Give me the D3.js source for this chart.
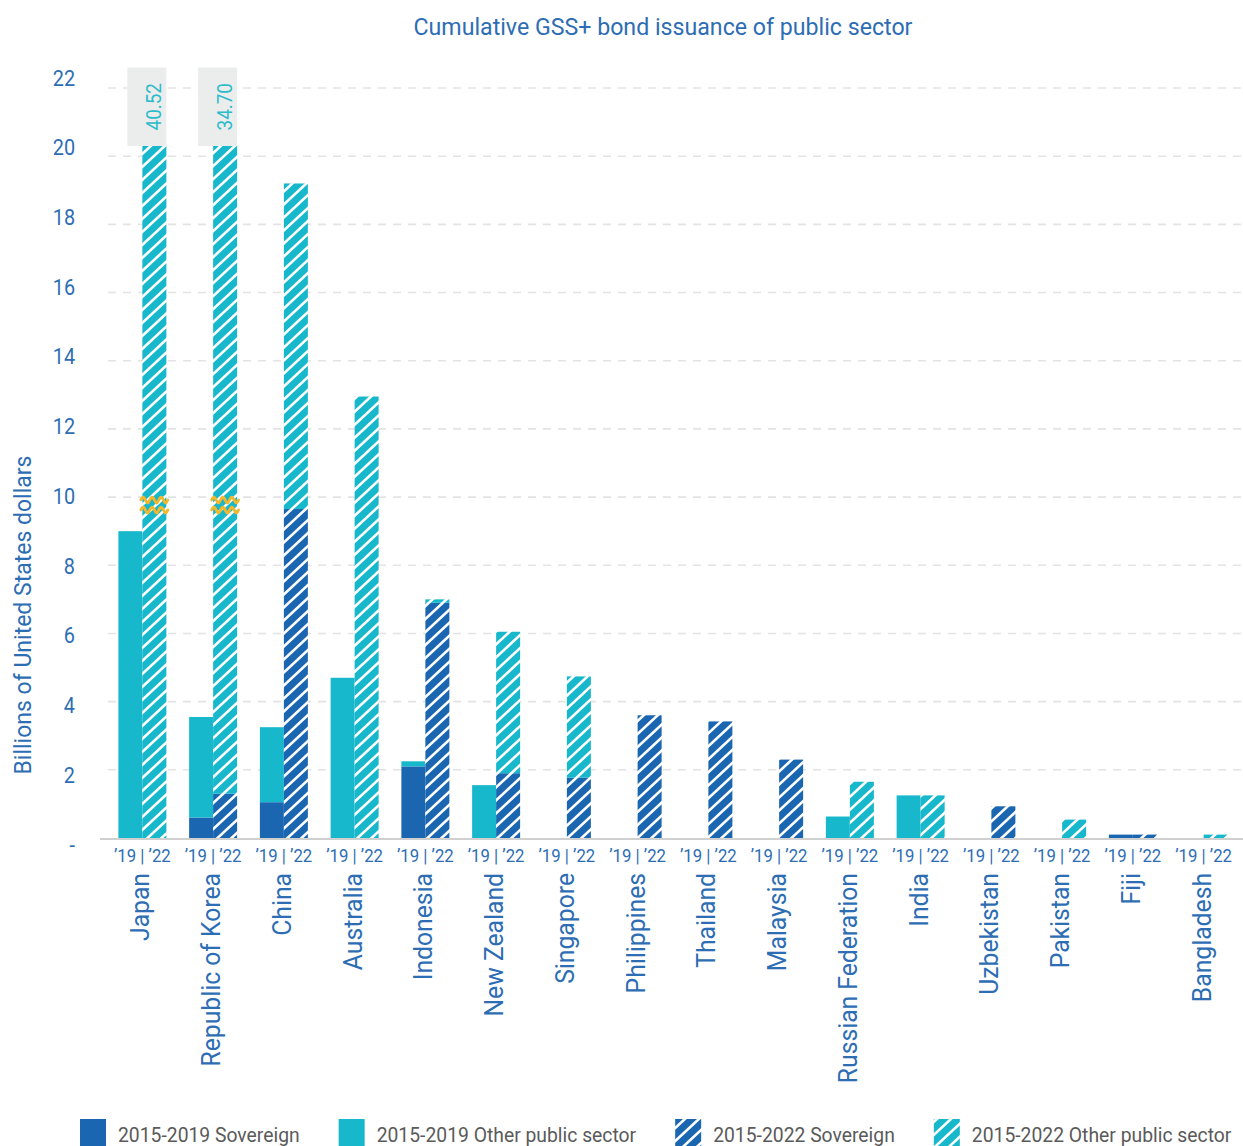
<!DOCTYPE html>
<html>
<head>
<meta charset="utf-8">
<script src="https://cdn.jsdelivr.net/npm/d3@7"></script>
<style>
  body { margin: 0; background: #fff; }
  svg text { font-family: Roboto, "Noto Sans", sans-serif; }
</style>
</head>
<body>
<svg id="chart" width="1243" height="1146"></svg>
<script>
// Cumulative GSS+ bond issuance of the public sector, billions of USD
const countries = ["Japan", "Republic of Korea", "China", "Australia", "Indonesia", "New Zealand",
  "Singapore", "Philippines", "Thailand", "Malaysia", "Russian Federation", "India",
  "Uzbekistan", "Pakistan", "Fiji", "Bangladesh"];
const sovereign2019   = [0, 0.6, 1.05, 0, 2.1, 0, 0, 0, 0, 0, 0, 0, 0, 0, 0.1, 0];
const otherPublic2019 = [9.0, 2.95, 2.2, 4.7, 0.15, 1.55, 0, 0, 0, 0, 0.63, 1.25, 0, 0, 0, 0];
const sovereign2022   = [0, 1.3, 9.65, 0, 6.9, 1.9, 1.77, 3.6, 3.42, 2.3, 0, 0, 0.93, 0, 0.1, 0];
const otherPublic2022 = [40.52, 33.4, 9.55, 12.95, 0.1, 4.15, 2.97, 0, 0, 0, 1.65, 1.25, 0, 0.54, 0, 0.1];
const periodLabel = "\u201919 | \u201922";
const yTicks = [0, 2, 4, 6, 8, 10, 12, 14, 16, 18, 20, 22];
const legendLabels = ["2015-2019 Sovereign", "2015-2019 Other public sector",
  "2015-2022 Sovereign", "2015-2022 Other public sector"];

const BLUE = "#1b66b1", CYAN = "#17b8cc", TEXT = "#2d6db4";
const CAP = 20.3;        // bars taller than this are cut and labelled
const BREAK_AT = 9.77;   // where the cut marker sits on a truncated bar
const BOX_TOP = 22.6;

const svg = d3.select("#chart");

// horizontally tighten text so Roboto reads like a condensed face
function condense(sel, k) {
  sel.each(function () {
    const len = this.getComputedTextLength();
    this.setAttribute("textLength", len * k);
    this.setAttribute("lengthAdjust", "spacingAndGlyphs");
  });
}

// hatch patterns
const defs = svg.append("defs");
function hatch(id, color) {
  const p = defs.append("pattern").attr("id", id)
    .attr("patternUnits", "userSpaceOnUse").attr("width", 14).attr("height", 13);
  p.append("rect").attr("width", 14).attr("height", 13).attr("fill", color);
  p.append("path").attr("d", "M-3.5,3.25 L3.5,-3.25 M0,13 L14,0 M10.5,16.25 L17.5,9.75")
    .attr("stroke", "#fff").attr("stroke-width", 2.6);
}
hatch("hatch-sov", BLUE);
hatch("hatch-other", CYAN);

const y = d3.scaleLinear().domain([0, 22]).range([838, 88]);
const yLabel = d3.scaleLinear().domain([0, 22]).range([845, 78]);
const x = d3.scaleBand().domain(countries).range([107, 1239]);
const barW = 24;

// title
svg.append("text").attr("x", 663).attr("y", 35).attr("text-anchor", "middle")
  .attr("font-size", 24).attr("fill", TEXT)
  .text("Cumulative GSS+ bond issuance of public sector").call(condense, 0.965);

// y axis title
svg.append("text").attr("transform", "translate(31,615) rotate(-90)")
  .attr("text-anchor", "middle").attr("font-size", 23).attr("fill", TEXT)
  .text("Billions of United States dollars");

// grid
svg.append("g").selectAll("line").data(yTicks.filter(d => d > 0)).join("line")
  .attr("x1", 108).attr("x2", 1243).attr("y1", d => y(d)).attr("y2", d => y(d))
  .attr("stroke", "#e3e3e3").attr("stroke-width", 1.6).attr("stroke-dasharray", "8,7");

// y tick labels
const yAxis = svg.append("g").attr("transform", "translate(75,0)")
  .call(d3.axisLeft(yLabel).tickValues(yTicks).tickSize(0).tickPadding(0)
    .tickFormat(d => d === 0 ? "-" : d));
yAxis.select(".domain").remove();
yAxis.selectAll("text").attr("font-size", 22).attr("fill", TEXT)
  .style("font-family", "Roboto, sans-serif").call(condense, 0.9);

// stacked bars
const rows = countries.map((c, i) => ({
  country: c,
  s19: sovereign2019[i], o19: otherPublic2019[i],
  s22: sovereign2022[i], o22: otherPublic2022[i]
}));
const stack19 = d3.stack().keys(["s19", "o19"])(rows);
const stack22 = d3.stack().keys(["s22", "o22"])(rows);
const fills19 = [BLUE, CYAN];
const fills22 = ["url(#hatch-sov)", "url(#hatch-other)"];

function drawStack(series, fills, offset) {
  svg.append("g").selectAll("g").data(series).join("g")
    .attr("fill", (d, i) => fills[i])
    .selectAll("rect").data(d => d.filter(s => s[1] - s[0] > 0)).join("rect")
    .attr("x", d => x(d.data.country) + x.bandwidth() / 2 + offset)
    .attr("width", barW)
    .attr("y", d => y(Math.min(d[1], CAP)))
    .attr("height", d => y(Math.min(d[0], CAP)) - y(Math.min(d[1], CAP)));
}
drawStack(stack19, fills19, -barW);
drawStack(stack22, fills22, 0);

// baseline
svg.append("line").attr("x1", 100).attr("x2", 1243).attr("y1", 839).attr("y2", 839)
  .attr("stroke", "#d0d0d0").attr("stroke-width", 2);

// truncated bars: value box and cut marker
const tall = rows.filter(r => r.s22 + r.o22 > CAP);
const wave = d3.line().curve(d3.curveBasis);
tall.forEach(r => {
  const cx = x(r.country) + x.bandwidth() / 2;
  const total = r.s22 + r.o22;
  svg.append("rect").attr("x", cx - 15).attr("width", 39)
    .attr("y", y(BOX_TOP)).attr("height", y(CAP) - y(BOX_TOP)).attr("fill", "#ebecec");
  svg.append("text")
    .attr("transform", `translate(${cx + barW / 2 + 7},${(y(BOX_TOP) + y(CAP)) / 2}) rotate(-90)`)
    .attr("text-anchor", "middle").attr("font-size", 21).attr("fill", "#2bbccb")
    .text(total.toFixed(2)).call(condense, 0.9);
  [-5, 5].forEach(dy => {
    const y0 = y(BREAK_AT) + dy;
    const pts = d3.range(0, 27.5, 1.5).map(t => [cx - 1.5 + t, y0 - 3.4 * Math.sin(t / 9 * 2 * Math.PI)]);
    svg.append("path").attr("d", wave(pts)).attr("fill", "none")
      .attr("stroke", "#f3b72b").attr("stroke-width", 2.8).attr("stroke-linecap", "round");
  });
});

// period labels under each pair
svg.append("g").selectAll("text").data(countries).join("text")
  .attr("x", d => x(d) + x.bandwidth() / 2).attr("y", 862)
  .attr("text-anchor", "middle").attr("font-size", 18).attr("fill", TEXT)
  .text(periodLabel).call(condense, 0.93);

// country names
svg.append("g").selectAll("text").data(countries).join("text")
  .attr("transform", d => `translate(${x(d) + x.bandwidth() / 2 + 7},873) rotate(-90)`)
  .attr("text-anchor", "end").attr("font-size", 26).attr("fill", TEXT)
  .text(d => d).call(condense, 0.95);

// legend
const legend = svg.append("g");
const swatches = [BLUE, CYAN, "url(#hatch-sov)", "url(#hatch-other)"];
let lx = 80;
legendLabels.forEach((lab, i) => {
  legend.append("rect").attr("x", lx).attr("y", 1119).attr("width", 26).attr("height", 27)
    .attr("fill", swatches[i]);
  const t = legend.append("text").attr("x", lx + 26 + 12).attr("y", 1142)
    .attr("font-size", 21).attr("fill", "#5a5a5a").text(lab).call(condense, 0.92);
  lx += 26 + 12 + t.node().getBBox().width + 39;
});
</script>
</body>
</html>
